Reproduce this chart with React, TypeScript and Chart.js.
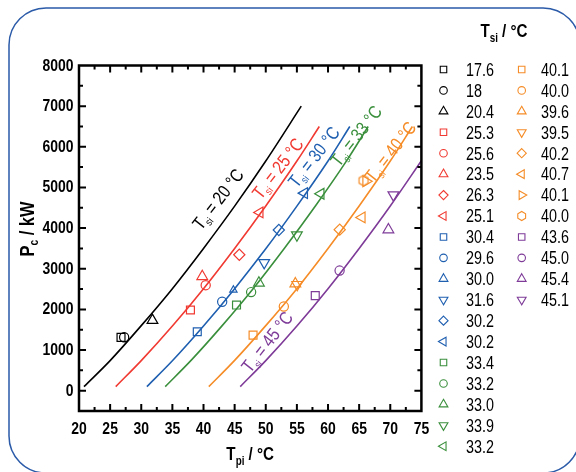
import React, { useEffect, useRef } from 'react';
import { Chart, registerables } from 'chart.js';
Chart.register(...registerables);

const FAMILY = '"Liberation Sans", Arial, sans-serif';
const SX = 0.82; // horizontal condensing to mimic a narrow face

// axis ticks
const xTicks = [20, 25, 30, 35, 40, 45, 50, 55, 60, 65, 70, 75];
const yTicks = [0, 1000, 2000, 3000, 4000, 5000, 6000, 7000, 8000];
const xMinorTicks = [22.5, 27.5, 32.5, 37.5, 42.5, 47.5, 52.5, 57.5, 62.5, 67.5, 72.5];
const yMinorTicks = [500, 1500, 2500, 3500, 4500, 5500, 6500, 7500];

// fitted curves (T_si = 20, 25, 30, 33, 40, 45 °C)
const curveNames = ['20', '25', '30', '33', '40', '45'];
const curveColors = ['#000000', '#f03a32', '#1f5fb0', '#3a8f3c', '#f58c27', '#7e3b98'];
const curve20X = [20.8, 25, 30, 35, 40, 45, 50, 55.7];
const curve20Y = [100, 740, 1600, 2510, 3500, 4540, 5650, 7000];
const curve25X = [25.9, 30, 35, 40, 45, 50, 55, 58.6];
const curve25Y = [100, 740, 1590, 2510, 3500, 4545, 5650, 6500];
const curve30X = [30.9, 35, 40, 45, 50, 55, 60, 63.5];
const curve30Y = [100, 735, 1590, 2510, 3490, 4540, 5650, 6500];
const curve33X = [33.85, 38, 43, 48, 53, 58, 63, 66.45];
const curve33Y = [100, 745, 1600, 2515, 3505, 4550, 5660, 6500];
const curve40X = [40.85, 45, 50, 55, 60, 65, 70, 73.55];
const curve40Y = [100, 745, 1600, 2510, 3500, 4545, 5650, 6500];
const curve45X = [45.9, 50, 55, 60, 65, 70, 75];
const curve45Y = [100, 740, 1590, 2510, 3500, 4545, 5660];

// curve label positions (data coords)
const labelX = [42.3, 51.9, 57.7, 64.5, 70.0, 50.2];
const labelY = [4713, 5468, 5754, 6268, 5877, 1203];

// measured points
const pointLabels = ['17.6', '18', '20.4',
  '25.3', '25.6', '23.5', '26.3', '25.1',
  '30.4', '29.6', '30.0', '31.6', '30.2', '30.2',
  '33.4', '33.2', '33.0', '33.9', '33.2',
  '40.1', '40.0', '39.6', '39.5', '40.2', '40.7', '40.1', '40.0',
  '43.6', '45.0', '45.4', '45.1'];
const pointX = [26.75, 27.25, 31.8,
  37.9, 40.35, 39.8, 45.75, 49.05,
  39.0, 43.0, 44.8, 49.75, 52.1, 56.2,
  45.3, 47.65, 48.9, 55.0, 58.85,
  47.96, 52.9, 54.75, 55.05, 61.88, 65.45, 66.1, 65.7,
  57.95, 61.86, 69.7, 70.5];
const pointY = [1310, 1315, 1730,
  1985, 2595, 2810, 3345, 4385,
  1450, 2188, 2478, 3150, 3952, 4860,
  2107, 2425, 2650, 3830, 4845,
  1368, 2070, 2630, 2610, 3962, 4262, 5150, 5170,
  2337, 2955, 3960, 4815];
const pointShapes = ['square', 'circle', 'up',
  'square', 'circle', 'up', 'diamond', 'left',
  'square', 'circle', 'upSmall', 'down', 'diamond', 'left',
  'square', 'circle', 'up', 'down', 'left',
  'square', 'circle', 'up', 'down', 'diamond', 'left', 'right', 'hex',
  'square', 'circle', 'up', 'down'];
const pointGroups = [0, 0, 0,
  1, 1, 1, 1, 1,
  2, 2, 2, 2, 2, 2,
  3, 3, 3, 3, 3,
  4, 4, 4, 4, 4, 4, 4, 4,
  5, 5, 5, 5];

const curvesX = [curve20X, curve25X, curve30X, curve33X, curve40X, curve45X];
const curvesY = [curve20Y, curve25Y, curve30Y, curve33Y, curve40Y, curve45Y];

function styleFor(shape: string) {
  switch (shape) {
    case 'square': return { ps: 'rect', rot: 0, r: 5.6 };
    case 'circle': return { ps: 'circle', rot: 0, r: 4.6 };
    case 'up': return { ps: 'triangle', rot: 0, r: 6.2 };
    case 'upSmall': return { ps: 'triangle', rot: 0, r: 4.2 };
    case 'down': return { ps: 'triangle', rot: 180, r: 6.2 };
    case 'left': return { ps: 'triangle', rot: -90, r: 6.2 };
    case 'right': return { ps: 'triangle', rot: 90, r: 6.2 };
    case 'diamond': return { ps: 'rectRot', rot: 0, r: 5.6 };
    default: return { ps: 'hex', rot: 0, r: 5.5 };
  }
}

function shapePath(ctx: CanvasRenderingContext2D, shape: string, x: number, y: number, k: number) {
  const st = styleFor(shape);
  const r = st.r * k;
  ctx.beginPath();
  if (st.ps === 'rect') {
    const s = r * Math.SQRT1_2;
    ctx.rect(x - s, y - s, 2 * s, 2 * s);
  } else if (st.ps === 'circle') {
    ctx.arc(x, y, r, 0, Math.PI * 2);
  } else if (st.ps === 'rectRot') {
    ctx.moveTo(x, y - r); ctx.lineTo(x + r, y); ctx.lineTo(x, y + r); ctx.lineTo(x - r, y); ctx.closePath();
  } else if (st.ps === 'triangle') {
    let rad = st.rot * Math.PI / 180;
    for (let i = 0; i < 3; i++) {
      const px = x + Math.sin(rad) * r, py = y - Math.cos(rad) * r;
      if (i === 0) ctx.moveTo(px, py); else ctx.lineTo(px, py);
      rad += 2 * Math.PI / 3;
    }
    ctx.closePath();
  } else {
    for (let i = 0; i < 6; i++) {
      const a = Math.PI / 6 + i * Math.PI / 3;
      const px = x + Math.cos(a) * r, py = y + Math.sin(a) * r;
      if (i === 0) ctx.moveTo(px, py); else ctx.lineTo(px, py);
    }
    ctx.closePath();
  }
  ctx.stroke();
}

type Part = { t: string; size: number; dy: number };
function richWidth(ctx: CanvasRenderingContext2D, parts: Part[], weight: string) {
  let w = 0;
  for (const p of parts) { ctx.font = `${weight} ${p.size}px ${FAMILY}`; w += ctx.measureText(p.t).width; }
  return w * SX;
}
function drawRich(ctx: CanvasRenderingContext2D, parts: Part[], x: number, y: number, weight: string, align: 'center' | 'left' | 'right') {
  const w = richWidth(ctx, parts, weight);
  const start = align === 'center' ? x - w / 2 : align === 'right' ? x - w : x;
  ctx.save();
  ctx.translate(start, y);
  ctx.scale(SX, 1);
  ctx.textAlign = 'left';
  ctx.textBaseline = 'alphabetic';
  let cx = 0;
  for (const p of parts) {
    ctx.font = `${weight} ${p.size}px ${FAMILY}`;
    ctx.fillText(p.t, cx, p.dy);
    cx += ctx.measureText(p.t).width;
  }
  ctx.restore();
}

const decorPlugin = {
  id: 'decor',
  beforeDraw(chart: any) {
    const ctx: CanvasRenderingContext2D = chart.ctx;
    ctx.save();
    ctx.strokeStyle = '#2a5aa8';
    ctx.lineWidth = 1.5;
    const l = 9, t = 8, r = 580, b = 473, rad = 37;
    ctx.beginPath();
    ctx.moveTo(l + rad, t);
    ctx.lineTo(r - rad, t);
    ctx.arcTo(r, t, r, t + rad, rad);
    ctx.lineTo(r, b - rad);
    ctx.arcTo(r, b, r - rad, b, rad);
    ctx.lineTo(l + rad, b);
    ctx.arcTo(l, b, l, b - rad, rad);
    ctx.lineTo(l, t + rad);
    ctx.arcTo(l, t, l + rad, t, rad);
    ctx.closePath();
    ctx.stroke();
    ctx.restore();
  },
  afterDraw(chart: any) {
    const ctx: CanvasRenderingContext2D = chart.ctx;
    const a = chart.chartArea;
    const xs = chart.scales.x, ys = chart.scales.y;
    ctx.save();
    // frame
    ctx.strokeStyle = '#000';
    ctx.lineWidth = 2.5;
    ctx.strokeRect(a.left, a.top, a.right - a.left, a.bottom - a.top);
    // inward ticks
    ctx.lineWidth = 2;
    ctx.beginPath();
    const tick = (v: number, len: number, horiz: boolean) => {
      if (horiz) {
        const px = xs.getPixelForValue(v);
        if (px <= a.left + 1 || px >= a.right - 1) return;
        ctx.moveTo(px, a.bottom); ctx.lineTo(px, a.bottom - len);
        ctx.moveTo(px, a.top); ctx.lineTo(px, a.top + len);
      } else {
        const py = ys.getPixelForValue(v);
        if (py <= a.top + 1 || py >= a.bottom - 1) return;
        ctx.moveTo(a.left, py); ctx.lineTo(a.left + len, py);
        ctx.moveTo(a.right, py); ctx.lineTo(a.right - len, py);
      }
    };
    xTicks.forEach(v => tick(v, 7, true));
    xMinorTicks.forEach(v => tick(v, 4, true));
    yTicks.forEach(v => tick(v, 7, false));
    yMinorTicks.forEach(v => tick(v, 4, false));
    ctx.stroke();

    // tick labels
    ctx.fillStyle = '#000';
    xTicks.forEach(v => {
      drawRich(ctx, [{ t: String(v), size: 17, dy: 0 }], xs.getPixelForValue(v), a.bottom + 23, 'bold', 'center');
    });
    yTicks.forEach(v => {
      drawRich(ctx, [{ t: String(v), size: 17, dy: 0 }], a.left - 5.5, ys.getPixelForValue(v) + 5, 'bold', 'right');
    });

    // curve labels
    const ang = -52 * Math.PI / 180;
    curveNames.forEach((n, i) => {
      const px = xs.getPixelForValue(labelX[i]);
      const py = ys.getPixelForValue(labelY[i]);
      ctx.save();
      ctx.translate(px, py);
      ctx.rotate(ang);
      ctx.fillStyle = curveColors[i];
      drawRich(ctx, [
        { t: 'T', size: 18.5, dy: 0 },
        { t: 'si', size: 10.5, dy: 4 },
        { t: ' = ' + n + ' \u00B0C', size: 18.5, dy: 0 },
      ], 0, 6.5, 'normal', 'center');
      ctx.restore();
    });

    // axis titles
    ctx.fillStyle = '#000';
    ctx.save();
    ctx.translate(34, 229);
    ctx.rotate(-Math.PI / 2);
    drawRich(ctx, [
      { t: 'P', size: 20, dy: 0 },
      { t: 'c', size: 12.5, dy: 4 },
      { t: ' / kW', size: 20, dy: 0 },
    ], 0, 0, 'bold', 'center');
    ctx.restore();
    drawRich(ctx, [
      { t: 'T', size: 18.5, dy: 0 },
      { t: 'pi', size: 12, dy: 5 },
      { t: ' / \u00B0C', size: 18.5, dy: 0 },
    ], (a.left + a.right) / 2, 460, 'bold', 'center');

    // legend title
    drawRich(ctx, [
      { t: 'T', size: 18.5, dy: 0 },
      { t: 'si', size: 12, dy: 5 },
      { t: ' / \u00B0C', size: 18.5, dy: 0 },
    ], 504, 36.5, 'bold', 'center');

    // legend entries
    const col1 = 19;
    ctx.lineWidth = 1.1;
    pointLabels.forEach((lab, i) => {
      const col = i < col1 ? 0 : 1;
      const row = col === 0 ? i : i - col1;
      const yy = 69.5 + row * 20.93;
      const mx = col === 0 ? 443.5 : 521.7;
      const tx = col === 0 ? 466 : 541;
      ctx.strokeStyle = curveColors[pointGroups[i]];
      shapePath(ctx, pointShapes[i] === 'upSmall' ? 'up' : pointShapes[i], mx, yy, 0.82);
      ctx.fillStyle = '#000';
      drawRich(ctx, [{ t: lab, size: 17.5, dy: 0 }], tx, yy + 6.3, 'normal', 'left');
    });
    ctx.restore();
  },
};

export default function App() {
  const ref = useRef<HTMLCanvasElement>(null);
  useEffect(() => {
    const canvas = ref.current!;
    const hex = document.createElement('canvas');
    hex.width = 14; hex.height = 14;
    const hc = hex.getContext('2d')!;
    hc.strokeStyle = curveColors[4];
    hc.lineWidth = 1.2;
    hc.beginPath();
    for (let i = 0; i < 6; i++) {
      const ang = Math.PI / 6 + i * Math.PI / 3;
      const px = 7 + Math.cos(ang) * 5.2, py = 7 + Math.sin(ang) * 5.2;
      if (i === 0) hc.moveTo(px, py); else hc.lineTo(px, py);
    }
    hc.closePath();
    hc.stroke();

    const datasets: any[] = [];
    curvesX.forEach((xs, i) => {
      datasets.push({
        type: 'line',
        data: xs.map((v, j) => ({ x: v, y: curvesY[i][j] })),
        borderColor: curveColors[i],
        borderWidth: 1.6,
        pointRadius: 0,
        fill: false,
        cubicInterpolationMode: 'monotone',
      });
    });
    pointX.forEach((v, i) => {
      const st = styleFor(pointShapes[i]);
      datasets.push({
        type: 'scatter',
        data: [{ x: v, y: pointY[i] }],
        pointStyle: st.ps === 'hex' ? hex : st.ps,
        pointRotation: st.rot,
        pointRadius: st.r,
        pointBorderColor: curveColors[pointGroups[i]],
        pointBackgroundColor: 'rgba(0,0,0,0)',
        pointBorderWidth: 1.2,
        showLine: false,
      });
    });

    const chart = new Chart(canvas, {
      type: 'scatter',
      data: { datasets },
      options: {
        responsive: false,
        animation: false,
        layout: { padding: { left: 0, top: 65.5, right: 154.6, bottom: 0 } },
        plugins: { legend: { display: false }, tooltip: { enabled: false } },
        scales: {
          x: {
            type: 'linear', min: 20, max: 75,
            grid: { display: false, drawTicks: false },
            border: { display: false },
            afterBuildTicks: (s: any) => { s.ticks = xTicks.map(v => ({ value: v })); },
            afterFit: (s: any) => { s.height = 61; },
            ticks: { display: false },
          },
          y: {
            type: 'linear', min: -500, max: 8000,
            grid: { display: false, drawTicks: false },
            border: { display: false },
            afterBuildTicks: (s: any) => { s.ticks = yTicks.map(v => ({ value: v })); },
            afterFit: (s: any) => { s.width = 79; },
            ticks: { display: false },
          },
        },
      },
      plugins: [decorPlugin],
    });
    return () => chart.destroy();
  }, []);
  return (
    <div style={{ position: 'absolute', left: 0, top: 0, width: 576, height: 472, background: '#fff' }}>
      <canvas ref={ref} width={576} height={472} style={{ display: 'block' }} />
    </div>
  );
}
